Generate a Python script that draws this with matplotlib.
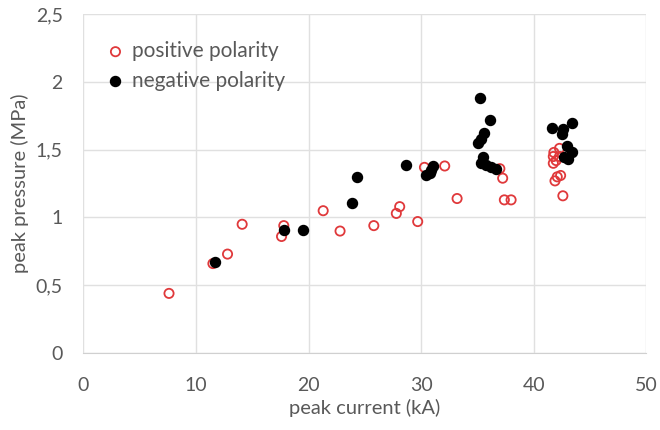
import numpy as np
from matplotlib import pyplot as plt
from matplotlib.ticker import FuncFormatter, MultipleLocator

# peak current (kA) and peak pressure (MPa), positive polarity strokes
pos_current = [7.6, 11.5, 12.8, 14.1, 17.6, 17.8, 21.3, 22.8, 25.8, 27.8, 28.1,
               29.7, 30.3, 32.1, 33.2, 37.0, 37.25, 37.4, 38.0,
               41.8, 42.3, 41.75, 42.0, 41.75, 42.3, 42.1, 42.4, 41.9, 42.6]
pos_pressure = [0.44, 0.66, 0.73, 0.95, 0.86, 0.94, 1.05, 0.90, 0.94, 1.03, 1.08,
                0.97, 1.37, 1.38, 1.14, 1.36, 1.29, 1.13, 1.13,
                1.48, 1.51, 1.45, 1.42, 1.40, 1.45, 1.30, 1.31, 1.27, 1.16]

# negative polarity strokes
neg_current = [11.7, 17.8, 19.5, 23.85, 24.3, 28.7, 30.45, 30.75, 30.9, 31.1,
               35.2, 36.1, 35.6, 35.3, 35.1, 35.5, 35.3, 35.8, 36.2, 36.7,
               41.6, 42.6, 42.5, 43.4, 43.0, 43.4, 43.1, 42.7]
neg_pressure = [0.67, 0.91, 0.91, 1.11, 1.30, 1.39, 1.31, 1.33, 1.35, 1.38,
                1.88, 1.72, 1.62, 1.58, 1.55, 1.45, 1.40, 1.39, 1.37, 1.355,
                1.66, 1.655, 1.615, 1.70, 1.53, 1.485, 1.43, 1.45]

txt_color = '#595959'
plt.rcParams['font.family'] = ['Lato', 'DejaVu Sans']

fig = plt.figure(figsize=(6.6, 4.3), dpi=100)
ax = fig.add_axes([0.1265, 0.179, 0.8525, 0.788])

ax.scatter(pos_current, pos_pressure, s=44, facecolors='none', edgecolors='#e0393b',
           linewidths=1.3, label='positive polarity', zorder=3)
ax.scatter(neg_current, neg_pressure, s=52, color='black', label='negative polarity', zorder=4)

ax.set_xlim(0, 50)
ax.set_ylim(0, 2.5)
ax.xaxis.set_major_locator(MultipleLocator(10))
ax.yaxis.set_major_locator(MultipleLocator(0.5))
ax.yaxis.set_major_formatter(FuncFormatter(lambda v, p: ('%g' % v).replace('.', ',')))

ax.grid(True, color='#e0e0e0', linewidth=1)
ax.set_axisbelow(True)
for s in ['top', 'right', 'left']:
    ax.spines[s].set_visible(False)
ax.spines['bottom'].set_color('#d0d0d0')
ax.tick_params(length=0, labelsize=14, colors=txt_color)
ax.tick_params(axis='x', pad=17)
ax.tick_params(axis='y', pad=15)

ax.set_xlabel('peak current (kA)', fontsize=14.5, color=txt_color, labelpad=4)
ax.set_ylabel('peak pressure (MPa)', fontsize=14.5, color=txt_color, labelpad=5)

leg = ax.legend(loc='upper left', bbox_to_anchor=(0.005, 0.945), frameon=False,
                fontsize=15, handletextpad=-0.2, labelspacing=0.45, borderaxespad=0)
for t in leg.get_texts():
    t.set_color(txt_color)

plt.savefig('out.png', dpi=100)
